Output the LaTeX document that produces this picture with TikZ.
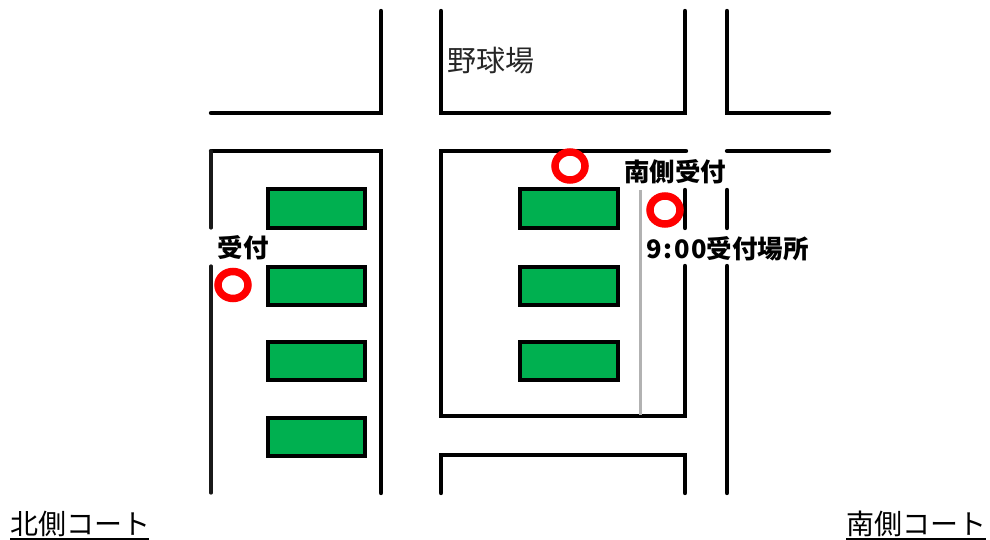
\documentclass[tikz,border=0pt]{standalone}
\usepackage{fontspec}
\setmainfont{Noto Sans CJK JP}
\newfontfamily\cjkbold{Noto Sans CJK JP Black}
\definecolor{court}{HTML}{00B050}
\tikzset{
  road/.style={draw=black,line width=4.4pt,line cap=round,line join=miter},
  thinroad/.style={draw=black!90,line width=3.2pt,line cap=round},
  courtbox/.style={draw=black,fill=court,line width=3.8pt},
  ringmark/.style={draw=red,line width=7.5pt},
  bold label/.style={inner sep=0pt,font=\cjkbold\fontsize{25.5}{26}\selectfont},
  link label/.style={inner sep=0pt,font=\fontsize{28}{28}\selectfont}
}
\begin{document}
\begin{tikzpicture}[x=1pt,y=-1pt]
\useasboundingbox (0,0) rectangle (990,540);
% roads
\draw[road] (211,113) -- (381,113) -- (381,11);
\draw[road] (441,11) -- (441,113) -- (685,113) -- (685,11);
\draw[road] (727,11) -- (727,113) -- (829,113);
\draw[road] (381,493) -- (381,151) -- (211,151);
\draw[thinroad] (211,151) -- (211,228);
\draw[thinroad] (211,266) -- (211,493);
\draw[road] (686,151) -- (441,151) -- (441,416) -- (685,416) -- (685,266);
\draw[road] (685,190) -- (685,228);
\draw[road] (727,151) -- (829,151);
\draw[road] (727,190) -- (727,228);
\draw[road] (727,266) -- (727,493);
\draw[road] (441,493) -- (441,455) -- (685,455) -- (685,493);
\draw[draw=black!30,line width=3pt] (640,190) -- (640,415);
% courts
\foreach \ya/\yb in {189/228,267/305,342/380,418/456}
  \draw[courtbox] (268,\ya) rectangle (365,\yb);
\foreach \ya/\yb in {189/228,267/305,342/380}
  \draw[courtbox] (520,\ya) rectangle (618,\yb);
% reception marks
\draw[ringmark] (570,166) ellipse [x radius=15,y radius=14];
\draw[ringmark] (665,210) ellipse [x radius=15,y radius=14];
\draw[ringmark] (233,285) ellipse [x radius=15,y radius=13.5];
% labels
\node[inner sep=0pt,text=black!85,font=\fontsize{29}{29}\selectfont] (stadium) at (491,61) {野球場};
\node[bold label] (north) at (243,248) {受付};
\node[bold label] (south) at (675,172) {南側受付};
\node[bold label] (nine) at (727.5,249) {9\kern2pt:\kern2pt0\kern1pt0受付場所};
\node[link label] (ncourt) at (80,524) {北側コート};
\node[link label] (scourt) at (916,524) {南側コート};
\draw[line width=1.8pt] (10,539) -- (149,539);
\draw[line width=1.8pt] (846,539) -- (986,539);
\end{tikzpicture}
\end{document}
